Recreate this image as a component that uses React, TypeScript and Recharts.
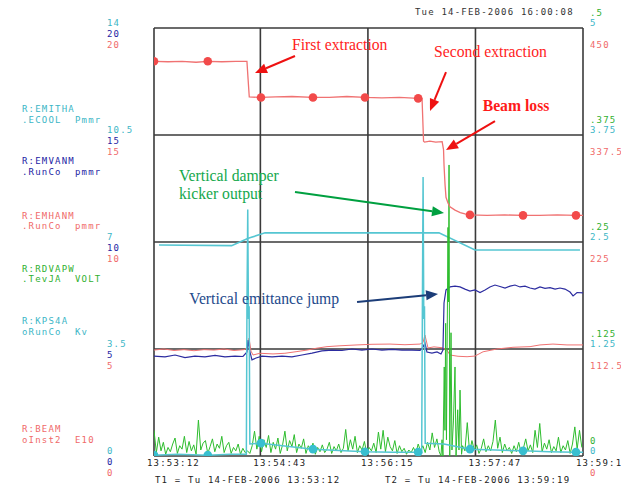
import { ComposedChart, Line, XAxis, YAxis, CartesianGrid, ReferenceLine, ReferenceDot } from "recharts";

// time axis in seconds after 13:53:12
const timeTicks = [0, 91, 183, 275, 367];
const timeLabels = ["13:53:12", "13:54:43", "13:56:15", "13:57:47", "13:59:19"];

const emithaTicks = [0, 3.5, 7, 10.5, 14];
const emithaLabels = ["0", "3.5", "7", "10.5", "14"];
const emvanmTicks = [0, 5, 10, 15, 20];
const emvanmLabels = ["0", "5", "10", "15", "20"];
const emhanmTicks = [0, 5, 10, 15, 20];
const emhanmLabels = ["0", "5", "10", "15", "20"];
const rdvapwTicks = [0, 0.125, 0.25, 0.375, 0.5];
const rdvapwLabels = ["0", ".125", ".25", ".375", ".5"];
const kps4aTicks = [0, 1.25, 2.5, 3.75, 5];
const kps4aLabels = ["0", "1.25", "2.5", "3.75", "5"];
const beamTicks = [0, 112.5, 225, 337.5, 450];
const beamLabels = ["0", "112.5", "225", "337.5", "450"];

const legendNames = ["R:EMITHA", "R:EMVANM", "R:EMHANM", "R:RDVAPW", "R:KPS4A", "R:BEAM"];
const legendUnits = [".ECOOL  Pmmr", ".RunCo  pmmr", ".RunCo  pmmr", ".TevJA  VOLT", "oRunCo  Kv", "oInst2  E10"];

// plotted markers (every ~45 s) on BEAM and KPS4A
const markerTimes = [0, 46, 91.5, 136, 180.5, 226, 270.3, 315.7, 361];

// R:BEAM (E10), right red axis
const beamT = [0, 12, 24, 36, 46, 58, 70, 79.5, 80.5, 81.5, 91.5, 104, 118, 136, 150, 165, 180.5, 195, 210, 226, 229.3, 230.6, 231.5, 236, 241, 246.5, 247.7, 248.1, 249, 249.8, 251.5, 253.2, 257.5, 262, 266, 270.3, 285, 300, 315.7, 330, 345, 361, 367];
const beamV = [415, 414.5, 415, 414, 415, 414.5, 415, 415, 396, 377.5, 377, 377.5, 378, 377, 377, 378, 377, 376.5, 377, 376, 376, 331, 330, 331, 330, 330.5, 322, 306, 285, 272, 266, 262, 258.5, 256, 254.5, 253.5, 253, 253.5, 253, 253, 253.5, 253, 253];

// R:KPS4A (kV), right cyan axis
const kpsT = [0, 20, 46, 65, 79, 79.5, 80.2, 80.8, 81.4, 82, 91.5, 110, 136, 158, 180.5, 205, 226, 229, 229.6, 230.2, 230.8, 231.4, 232, 248, 270.3, 292, 315.7, 338, 361, 367];
const kpsV = [0.01, 0.02, 0.01, 0.02, 0.02, 1.7, 2.88, 1.6, 1.75, 0.14, 0.15, 0.12, 0.08, 0.065, 0.05, 0.045, 0.045, 0.04, 1.75, 3.26, 1.6, 1.75, 0.15, 0.14, 0.08, 0.07, 0.06, 0.05, 0.045, 0.045];

// R:EMITHA (pi mm mrad), left cyan axis
const emithaT = [4.3, 66.4, 80.6, 95, 243.8, 274.6, 364.4];
const emithaV = [6.9, 6.88, 7.12, 7.3, 7.3, 6.74, 6.74];

// R:EMVANM, left blue axis
const emvT = [0, 9.4, 18, 26.5, 35, 43.6, 52.2, 60.7, 69.3, 76.1, 79.6, 80.4, 81.7, 83.8, 87.3, 92.4, 101, 109.5, 118, 126.6, 135.2, 143.7, 152.3, 160.8, 169.4, 177.9, 186.5, 195, 203.6, 212.2, 220.7, 227.6, 230.1, 231.8, 233.5, 237.8, 242.1, 245.5, 247.2, 248.1, 249.8, 253.2, 257.5, 261.8, 266, 270.3, 274.6, 278.9, 283.2, 287.4, 291.7, 296, 300.3, 304.6, 308.8, 313.1, 317.4, 321.7, 325.9, 330.2, 334.5, 338.8, 343.1, 347.3, 351.6, 355.9, 358.5, 361.9, 367];
const emvV = [4.67, 4.63, 4.72, 4.6, 4.67, 4.63, 4.7, 4.63, 4.67, 4.65, 4.86, 5.42, 4.95, 4.49, 4.58, 4.67, 4.63, 4.67, 4.63, 4.72, 4.81, 4.91, 4.95, 4.93, 5.0, 4.95, 5.0, 4.95, 4.98, 4.95, 4.95, 4.93, 5.09, 5.28, 4.86, 4.81, 4.86, 4.77, 4.95, 7.15, 7.76, 7.9, 7.94, 7.9, 7.8, 7.71, 7.76, 7.64, 7.76, 7.9, 7.99, 7.92, 7.85, 7.94, 7.99, 7.9, 7.94, 7.85, 7.8, 7.9, 7.83, 7.87, 7.8, 7.85, 7.8, 7.66, 7.48, 7.64, 7.62];

// R:EMHANM, left red axis
const emhT = [0, 8.6, 17.1, 25.7, 34.2, 42.8, 51.3, 59.9, 68.4, 77, 79.6, 81.3, 83, 84.7, 90.7, 101.8, 112, 122.3, 130.9, 139.4, 148, 159.1, 173.7, 186.5, 201.9, 214.7, 227.6, 230.1, 231.8, 234.4, 239.5, 246.4, 250.6, 253.2, 260.1, 267.8, 274.6, 281.5, 293.4, 307.1, 321.7, 330.2, 341.3, 353.3, 367];
const emhV = [4.95, 5.0, 4.93, 4.97, 4.92, 4.97, 4.95, 5.0, 4.93, 4.97, 5.05, 5.51, 4.9, 4.72, 4.8, 4.77, 4.8, 4.88, 4.95, 5.04, 5.11, 5.15, 5.19, 5.22, 5.23, 5.2, 5.23, 5.3, 5.65, 5.05, 5.1, 5.06, 4.95, 4.72, 4.66, 4.64, 4.67, 4.87, 5.0, 5.08, 5.11, 5.19, 5.23, 5.19, 5.19];

// R:RDVAPW (V), right green axis; logger samples every 2 s, plus the burst at beam loss
const GREEN_STEP = 2;
const greenEarly = [
  0.03, 0.004, 0.022, 0.006, 0.016, 0.002, 0.01, 0.005, 0.014, 0.021,
  0.003, 0.012, 0.008, 0.023, 0.004, 0.017, 0.006, 0.013, 0.002, 0.042,
  0.007, 0.015, 0.018, 0.003, 0.011, 0.02, 0.005, 0.014, 0.009, 0.023,
  0.004, 0.012, 0.016, 0.003, 0.01, 0.006, 0.014, 0.002, 0.009, 0.004,
  0.006, 0.003, 0.012, 0.029, 0.008, 0.023,
  0.005, 0.019, 0.01, 0.024, 0.004, 0.016, 0.008, 0.021, 0.003, 0.013,
  0.029, 0.006, 0.018, 0.011, 0.025, 0.004, 0.014, 0.009, 0.02, 0.003,
  0.012, 0.007, 0.015, 0.002, 0.01, 0.005, 0.013, 0.004, 0.008, 0.016,
  0.003, 0.011, 0.006, 0.014, 0.004, 0.009, 0.031, 0.006, 0.019, 0.008,
  0.023, 0.004, 0.012, 0.007, 0.017, 0.003,
  0.01, 0.006, 0.015, 0.004, 0.028, 0.008, 0.03, 0.005, 0.022, 0.011,
  0.006, 0.018, 0.003, 0.012, 0.005, 0.009, 0.002, 0.007, 0.004, 0.01,
  0.003, 0.014, 0.006, 0.012, 0.004, 0.016, 0.007, 0.027, 0.01, 0.02,
  0.005,
];
const burstT = [245.5, 246.4, 247.2, 248.3, 248.9, 249.5, 250.2, 251.5, 251.9, 252.4, 253, 254.1, 254.9, 256.2, 257.5, 258.4, 259.8, 260.9, 261.8, 263.1];
const burstV = [0, 0.019, 0, 0.104, 0.03, 0.155, 0.019, 0.267, 0.18, 0.34, 0, 0.144, 0.007, 0.042, 0.104, 0, 0.054, 0.007, 0.077, 0.002];
const GREEN_LATE_START = 264;
const greenLate = [
  0.012, 0.006, 0.039, 0.004, 0.018, 0.007,
  0.013, 0.003, 0.009, 0.02, 0.005, 0.012, 0.006, 0.017, 0.042, 0.009,
  0.022, 0.004, 0.014, 0.006, 0.01, 0.003, 0.012, 0.005, 0.016, 0.004,
  0.009, 0.02, 0.006, 0.013, 0.004, 0.03, 0.01, 0.038, 0.005, 0.015,
  0.008, 0.019, 0.004, 0.011, 0.006, 0.022, 0.004, 0.012, 0.007, 0.018,
  0.003, 0.014, 0.034, 0.008, 0.03, 0.01,
];

const CYAN = "#55c6d2";
const CYAN_TXT = "#3cb6c6";
const BLUE = "#2c2ca0";
const BLUE_TXT = "#2424a4";
const RED = "#f07272";
const RED_TXT = "#f06a6a";
const RED_DOT = "#f24a4a";
const GREEN = "#2ebd2e";
const GREEN_TXT = "#30b030";
const MONO = "'DejaVu Sans Mono', monospace";
const SERIF = "'Liberation Serif', 'Times New Roman', serif";

const pairs = (ts: number[], vs: number[]) => ts.map((t, i) => ({ t, v: vs[i] }));
const beamData = pairs(beamT, beamV);
const kpsData = pairs(kpsT, kpsV);
const emithaData = pairs(emithaT, emithaV);
const emvData = pairs(emvT, emvV);
const emhData = pairs(emhT, emhV);
const greenData = [
  ...greenEarly.map((v, i) => ({ t: i * GREEN_STEP, v })),
  ...pairs(burstT, burstV),
  ...greenLate.map((v, i) => ({ t: GREEN_LATE_START + i * GREEN_STEP, v })),
];

const yAxes = [
  { id: "emitha", side: "left", ticks: emithaTicks, labels: emithaLabels, color: CYAN_TXT, dy: -5 },
  { id: "emvanm", side: "left", ticks: emvanmTicks, labels: emvanmLabels, color: BLUE_TXT, dy: 6 },
  { id: "emhanm", side: "left", ticks: emhanmTicks, labels: emhanmLabels, color: RED_TXT, dy: 17 },
  { id: "rdvapw", side: "right", ticks: rdvapwTicks, labels: rdvapwLabels, color: GREEN_TXT, dy: -15 },
  { id: "kps4a", side: "right", ticks: kps4aTicks, labels: kps4aLabels, color: CYAN_TXT, dy: -5.5 },
  { id: "beam", side: "right", ticks: beamTicks, labels: beamLabels, color: RED_TXT, dy: 16.5 },
];

const notes = [
  { text: "First extraction", t: 158.9, v: 433, color: "#ff2222", anchor: "middle", bold: false },
  { text: "Second extraction", t: 287.9, v: 425, color: "#ff2222", anchor: "middle", bold: false },
  { text: "Beam loss", t: 309.7, v: 369, color: "#ff1a1a", anchor: "middle", bold: true },
  { text: "Vertical damper", t: 21.4, v: 295.4, color: "#14a84c", anchor: "start", bold: false },
  { text: "kicker output", t: 21.4, v: 276.5, color: "#14a84c", anchor: "start", bold: false },
  { text: "Vertical emittance jump", t: 30.2, v: 165.1, color: "#244a8c", anchor: "start", bold: false },
];

const arrows = [
  { from: [120.6, 420.6], to: [86.4, 402.7], color: "#ee1111" },
  { from: [249.8, 403.7], to: [236.1, 362.7], color: "#ee1111" },
  { from: [291.7, 352.2], to: [249.8, 321.7], color: "#ee1111" },
  { from: [120.6, 277.6], to: [248.1, 255.5], color: "#00a040" },
  { from: [173.7, 161.9], to: [243, 170.3], color: "#1c3d78" },
];

const LEFT_LABEL_X = 107;
const RIGHT_LABEL_X = 590;

function makeYTick(labels: string[], ticks: number[], color: string, x: number, dy: number) {
  return (p: any) => (
    <text x={x} y={p.y + dy} fill={color} fontFamily={MONO} fontSize={9} letterSpacing={1.2} dominantBaseline="central">
      {labels[ticks.indexOf(p.payload.value)]}
    </text>
  );
}

const TimeTick = (p: any) => (
  <text x={p.x - 7} y={463} fill="#222" fontFamily={MONO} fontSize={9} letterSpacing={1.2} dominantBaseline="central">
    {timeLabels[timeTicks.indexOf(p.payload.value)]}
  </text>
);

const markerDot = (color: string) => (p: any) =>
  markerTimes.includes(p.payload.t) ? (
    <circle key={`m${p.index}`} cx={p.cx} cy={p.cy} r={4.3} fill={color} />
  ) : (
    <g key={`m${p.index}`} />
  );

function Arrow(p: any) {
  const { x1, y1, x2, y2, stroke } = p;
  const a = Math.atan2(y2 - y1, x2 - x1);
  const len = 12;
  const half = 5;
  const bx = x2 - len * Math.cos(a);
  const by = y2 - len * Math.sin(a);
  const px = -Math.sin(a) * half;
  const py = Math.cos(a) * half;
  return (
    <g>
      <line x1={x1} y1={y1} x2={bx} y2={by} stroke={stroke} strokeWidth={2} />
      <polygon points={`${x2},${y2} ${bx + px},${by + py} ${bx - px},${by - py}`} fill={stroke} />
    </g>
  );
}

const legendRows = [109, 161, 215.5, 268.5, 321, 429];
const legendColors = [CYAN_TXT, BLUE_TXT, RED_TXT, GREEN_TXT, CYAN_TXT, RED_TXT];

const monoText = (color: string): React.CSSProperties => ({
  position: "absolute",
  fontFamily: MONO,
  fontSize: 9,
  letterSpacing: 1.2,
  lineHeight: "10px",
  whiteSpace: "pre",
  color,
});

export default function App() {
  return (
    <div style={{ position: "relative", width: 629, height: 485, margin: "-8px 0 0 -8px", background: "#fff" }}>
      <div style={{ ...monoText("#333"), left: 415, top: 7 }}>Tue 14-FEB-2006 16:00:08</div>
      {legendNames.map((n, i) => (
        <div key={n} style={{ ...monoText(legendColors[i]), left: 22, top: legendRows[i] - 5 }}>
          {n}
          {"\n"}
          <span style={{ position: "relative", top: 0.5 }}>{legendUnits[i]}</span>
        </div>
      ))}
      <div style={{ ...monoText("#222"), left: 155, top: 475 }}>T1 = Tu 14-FEB-2006 13:53:12</div>
      <div style={{ ...monoText("#222"), left: 385, top: 475 }}>T2 = Tu 14-FEB-2006 13:59:19</div>
      <div style={{ position: "absolute", left: 0, top: 0 }}>
        {/* each axis is 1px wide/high, so the margins are 3px (or 1px) short of the plot frame */}
        <ComposedChart width={629} height={485} margin={{ top: 28, right: 43, bottom: 28, left: 151 }}>
          <XAxis
            dataKey="t"
            type="number"
            domain={[0, 367]}
            ticks={timeTicks}
            interval={0}
            height={1}
            allowDataOverflow
            axisLine={false}
            tickLine={false}
            tick={TimeTick}
          />
          {yAxes.map((ax) => (
            <YAxis
              key={ax.id}
              yAxisId={ax.id}
              orientation={ax.side as "left" | "right"}
              type="number"
              domain={[ax.ticks[0], ax.ticks[ax.ticks.length - 1]]}
              ticks={ax.ticks}
              interval={0}
              width={1}
              allowDataOverflow
              axisLine={false}
              tickLine={false}
              tick={makeYTick(ax.labels, ax.ticks, ax.color, ax.side === "left" ? LEFT_LABEL_X : RIGHT_LABEL_X, ax.dy)}
            />
          ))}
          <CartesianGrid yAxisId="beam" stroke="#3a3a3a" strokeWidth={1.6} />
          <Line yAxisId="emitha" data={emithaData} dataKey="v" stroke={CYAN} strokeWidth={1.6} dot={false} activeDot={false} isAnimationActive={false} />
          <Line yAxisId="emhanm" data={emhData} dataKey="v" stroke={RED} strokeWidth={1} dot={false} activeDot={false} isAnimationActive={false} />
          <Line yAxisId="emvanm" data={emvData} dataKey="v" stroke={BLUE} strokeWidth={1.2} dot={false} activeDot={false} isAnimationActive={false} />
          <Line yAxisId="rdvapw" data={greenData} dataKey="v" stroke={GREEN} strokeWidth={1} dot={false} activeDot={false} isAnimationActive={false} />
          <Line yAxisId="kps4a" data={kpsData} dataKey="v" stroke={CYAN} strokeWidth={1.5} dot={markerDot("#38bfd0")} activeDot={false} isAnimationActive={false} />
          <Line yAxisId="beam" data={beamData} dataKey="v" stroke={RED} strokeWidth={1.3} dot={markerDot(RED_DOT)} activeDot={false} isAnimationActive={false} />
          {arrows.map((a, i) => (
            <ReferenceLine
              key={`a${i}`}
              yAxisId="beam"
              segment={[
                { x: a.from[0], y: a.from[1] },
                { x: a.to[0], y: a.to[1] },
              ]}
              stroke={a.color}
              shape={Arrow}
            />
          ))}
          {notes.map((n) => (
            <ReferenceDot
              key={n.text}
              yAxisId="beam"
              x={n.t}
              y={n.v}
              shape={(p: any) => (
                <text
                  x={p.cx}
                  y={p.cy}
                  fill={n.color}
                  textAnchor={n.anchor as "start" | "middle"}
                  dominantBaseline="central"
                  fontFamily={SERIF}
                  fontSize={15.7}
                  fontWeight={n.bold ? "bold" : "normal"}
                >
                  {n.text}
                </text>
              )}
            />
          ))}
        </ComposedChart>
      </div>
    </div>
  );
}
